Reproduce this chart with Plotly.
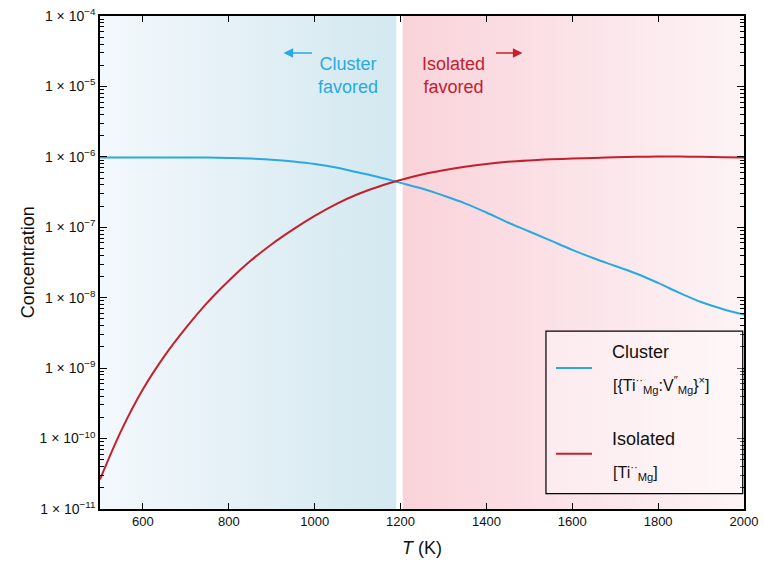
import plotly.graph_objects as go

# ---------------- data ----------------
temperature_K = [500, 550, 600, 650, 700, 750, 800, 850, 900, 950, 1000, 1050, 1100,
                 1150, 1200, 1250, 1300, 1350, 1400, 1450, 1500, 1550, 1600, 1650,
                 1700, 1750, 1800, 1850, 1900, 1950, 2000]

cluster_conc = [9.77e-7, 9.77e-7, 9.77e-7, 9.77e-7, 9.77e-7, 9.77e-7, 9.66e-7, 9.44e-7,
                9.12e-7, 8.61e-7, 7.94e-7, 7.08e-7, 6.03e-7, 5.13e-7, 4.27e-7, 3.55e-7,
                2.82e-7, 2.19e-7, 1.62e-7, 1.17e-7, 8.71e-8, 6.46e-8, 4.79e-8, 3.63e-8,
                2.82e-8, 2.19e-8, 1.62e-8, 1.17e-8, 8.71e-9, 6.92e-9, 5.75e-9]

isolated_conc = [2.63e-11, 1.32e-10, 5.01e-10, 1.48e-9, 3.72e-9, 8.51e-9, 1.74e-8, 3.31e-8,
                 5.75e-8, 9.33e-8, 1.45e-7, 2.14e-7, 2.95e-7, 3.80e-7, 4.68e-7, 5.62e-7,
                 6.46e-7, 7.24e-7, 7.94e-7, 8.51e-7, 8.91e-7, 9.23e-7, 9.44e-7, 9.66e-7,
                 9.89e-7, 1.0e-6, 1.01e-6, 1.01e-6, 1.0e-6, 9.89e-7, 9.77e-7]

y_tick_vals = [1e-4, 1e-5, 1e-6, 1e-7, 1e-8, 1e-9, 1e-10, 1e-11]
y_tick_text = ["1 × 10<sup>−4</sup>", "1 × 10<sup>−5</sup>", "1 × 10<sup>−6</sup>",
               "1 × 10<sup>−7</sup>", "1 × 10<sup>−8</sup>", "1 × 10<sup>−9</sup>",
               "1 × 10<sup>−10</sup>", "1 × 10<sup>−11</sup>"]
x_tick_vals = [600, 800, 1000, 1200, 1400, 1600, 1800, 2000]

# region bounds (K) and axis limits
T_MIN, T_MAX = 500, 2000
CLUSTER_REGION_END = 1190
ISOLATED_REGION_START = 1205
Y_MIN, Y_MAX = 1e-11, 1e-4

# minor log tick positions (2..9 within each decade)
minor_y_ticks = [m * d for d in y_tick_vals[1:] for m in range(2, 10)]

BLUE = "#29a9e1"
RED = "#c3202e"
FONT = "Liberation Sans, Arial, Helvetica, sans-serif"

fig = go.Figure()

# gradient background regions
fig.add_trace(go.Scatter(
    x=[T_MIN, CLUSTER_REGION_END, CLUSTER_REGION_END, T_MIN, T_MIN],
    y=[Y_MIN, Y_MIN, Y_MAX, Y_MAX, Y_MIN],
    mode="lines", line=dict(width=0), fill="toself",
    fillgradient=dict(type="horizontal", colorscale=[[0, "#f3f8fc"], [1, "#d3e8f0"]]),
    hoverinfo="skip", showlegend=False))
fig.add_trace(go.Scatter(
    x=[ISOLATED_REGION_START, T_MAX, T_MAX, ISOLATED_REGION_START, ISOLATED_REGION_START],
    y=[Y_MIN, Y_MIN, Y_MAX, Y_MAX, Y_MIN],
    mode="lines", line=dict(width=0), fill="toself",
    fillgradient=dict(type="horizontal", colorscale=[[0, "#f9d3da"], [1, "#fdf3f5"]]),
    hoverinfo="skip", showlegend=False))

# curves
fig.add_trace(go.Scatter(x=temperature_K, y=cluster_conc, mode="lines",
                         line=dict(color=BLUE, width=2, shape="spline", smoothing=1.0),
                         showlegend=False, name="Cluster"))
fig.add_trace(go.Scatter(x=temperature_K, y=isolated_conc, mode="lines",
                         line=dict(color=RED, width=2, shape="spline", smoothing=1.0),
                         showlegend=False, name="Isolated"))

fig.update_layout(
    width=764, height=565,
    margin=dict(l=100, r=20, t=16, b=56, autoexpand=False),
    paper_bgcolor="white", plot_bgcolor="white",
    font=dict(family=FONT, size=13, color="#111"),
)

fig.update_xaxes(range=[T_MIN, T_MAX], tickvals=x_tick_vals, ticks="inside", ticklen=6,
                 tickwidth=1, tickcolor="black", showline=True, linecolor="black",
                 linewidth=1.5, mirror="ticks", showgrid=False, zeroline=False,
                 automargin=False, tickfont=dict(size=13, family=FONT))
fig.update_yaxes(type="log", range=[-11, -4], tickvals=y_tick_vals, ticktext=y_tick_text,
                 ticks="inside", ticklen=7, tickwidth=1, tickcolor="black",
                 showline=True, linecolor="black", linewidth=1.5, mirror="ticks",
                 showgrid=False, zeroline=False, automargin=False,
                 tickfont=dict(size=14, family=FONT),
                 minor=dict(tickmode="array", tickvals=minor_y_ticks, ticks="inside",
                            ticklen=4, tickcolor="black", showgrid=False))

# axis titles
fig.add_annotation(xref="paper", yref="paper", x=-0.112, y=0.5, text="Concentration",
                   textangle=-90, showarrow=False, font=dict(size=18, family=FONT),
                   xanchor="center", yanchor="middle")
fig.add_annotation(xref="paper", yref="paper", x=0.5, y=-0.08, text="<i>T</i> (K)",
                   showarrow=False, font=dict(size=18, family=FONT),
                   xanchor="center", yanchor="middle")

# region labels
fig.add_annotation(xref="paper", yref="paper", x=0.385, y=0.926, text="Cluster<br>favored",
                   showarrow=False, font=dict(size=18, color=BLUE, family=FONT), align="center")
fig.add_annotation(xref="paper", yref="paper", x=0.549, y=0.926, text="Isolated<br>favored",
                   showarrow=False, font=dict(size=18, color=RED, family=FONT), align="center")
fig.add_annotation(xref="paper", yref="paper", x=0.285, y=0.925, ax=30, ay=0, text="",
                   showarrow=True, arrowhead=2, arrowsize=1.2, arrowwidth=1.6, arrowcolor=BLUE)
fig.add_annotation(xref="paper", yref="paper", x=0.656, y=0.925, ax=-28, ay=0, text="",
                   showarrow=True, arrowhead=2, arrowsize=1.2, arrowwidth=1.6, arrowcolor=RED)

# custom legend
fig.add_shape(type="rect", xref="paper", yref="paper", x0=0.6925, x1=0.998, y0=0.031, y1=0.361,
              line=dict(color="black", width=1.2), fillcolor="rgba(255,255,255,0.35)")
fig.add_shape(type="line", xref="paper", yref="paper", x0=0.708, x1=0.764, y0=0.286, y1=0.286,
              line=dict(color=BLUE, width=2))
fig.add_shape(type="line", xref="paper", yref="paper", x0=0.708, x1=0.764, y0=0.112, y1=0.112,
              line=dict(color=RED, width=2))
fig.add_annotation(xref="paper", yref="paper", x=0.792, y=0.319, text="Cluster",
                   showarrow=False, xanchor="left", yanchor="middle",
                   font=dict(size=18, family=FONT, color="#111"))
fig.add_annotation(xref="paper", yref="paper", x=0.794, y=0.252,
                   text="[{Ti<sup>··</sup><sub>Mg</sub>:V<sup>″</sup><sub>Mg</sub>}<sup>×</sup>]",
                   showarrow=False, xanchor="left", yanchor="middle",
                   font=dict(size=16, family=FONT, color="#111"))
fig.add_annotation(xref="paper", yref="paper", x=0.792, y=0.143, text="Isolated",
                   showarrow=False, xanchor="left", yanchor="middle",
                   font=dict(size=18, family=FONT, color="#111"))
fig.add_annotation(xref="paper", yref="paper", x=0.794, y=0.076,
                   text="[Ti<sup>··</sup><sub>Mg</sub>]",
                   showarrow=False, xanchor="left", yanchor="middle",
                   font=dict(size=16, family=FONT, color="#111"))

fig.write_html("out.html", config={"displayModeBar": False},
               post_script="document.body.style.margin='0';document.body.style.overflow='hidden';")
